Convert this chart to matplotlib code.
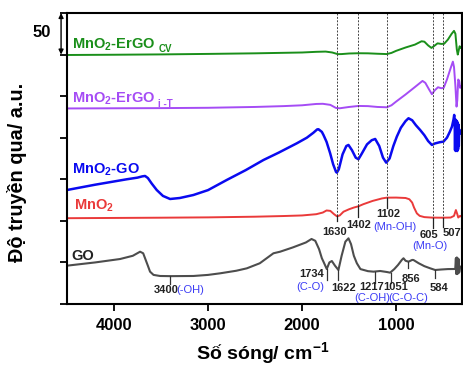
import numpy as np
import matplotlib.pyplot as plt
import matplotlib.transforms as mtransforms

plt.rcParams['font.family'] = ['Liberation Sans', 'DejaVu Sans']
plt.rcParams['mathtext.fontset'] = 'custom'
plt.rcParams['mathtext.rm'] = 'Liberation Sans'
plt.rcParams['mathtext.bf'] = 'Liberation Sans:bold'

# wavenumber (cm-1) / transmittance (a.u., stacked)
cv_x = [4500, 4000, 3500, 3000, 2500, 2000, 1850, 1750, 1680, 1620, 1580, 1500, 1400, 1300, 1200,
        1100, 1050, 1000, 900, 800, 730, 700, 660, 625, 600, 560, 520, 490, 450, 410, 385, 370,
        355, 345, 335, 325, 315, 305]
cv_y = [299.5, 299.8, 300.2, 300.8, 301.5, 302.5, 303.3, 303.6, 302.5, 300.5, 300.6, 301.3, 301.6,
        301.5, 301.0, 300.6, 302, 304.5, 308.5, 312, 316, 315.5, 311, 308, 310, 313.5, 312.8, 313,
        318, 325, 328.5, 325, 306, 300, 305, 310, 308, 309]

it_x = [4500, 4000, 3500, 3000, 2500, 2200, 2000, 1850, 1780, 1700, 1640, 1600, 1500, 1400, 1300,
        1200, 1100, 1050, 1000, 900, 800, 720, 690, 650, 620, 590, 555, 520, 495, 460, 420, 397,
        385, 370, 358, 350, 340, 330, 320, 305]
it_y = [235.2, 235.4, 235.6, 236, 237, 238, 239, 240.6, 240.8, 239.5, 235.8, 235.4, 237, 238.2,
        238, 237, 236.6, 239, 243.5, 252, 261, 268.3, 266, 258, 252.3, 257, 260.7, 259.5, 260,
        270, 284, 291.5, 285, 262, 237.4, 245, 270, 268, 260, 262]

go2_x = [4500, 4200, 3865, 3750, 3700, 3670, 3640, 3600, 3546, 3480, 3404, 3300, 3156, 3000, 2801,
         2600, 2411, 2250, 2056, 1950, 1880, 1840, 1826, 1790, 1773, 1740, 1702, 1670, 1640, 1631,
         1610, 1570, 1530, 1507, 1470, 1430, 1401, 1370, 1310, 1260, 1223, 1180, 1140, 1106, 1070,
         1030, 993, 950, 900, 869, 830, 790, 745, 700, 660, 620, 590, 540, 497, 460, 430, 407, 390,
         383, 378, 374, 370, 366, 362, 358, 354, 350, 346, 342, 338, 334, 330, 320, 305]
go2_y = [137.1, 143.5, 150.0, 152, 153.5, 154.0, 151.5, 145, 137.1, 130, 126.3, 127.5, 131.1, 137,
         149.2, 161, 173.2, 182, 193.3, 200, 206, 210, 210.2, 207, 203.3, 195, 181.3, 168, 159,
         158.0, 162, 180, 190, 191.3, 185, 176, 174.1, 180, 192, 197, 198.5, 190, 176, 170.0, 175,
         190, 201.3, 212, 220, 223.4, 221, 215, 209.3, 203, 196, 191.3, 193, 194.5, 195.3, 200,
         207, 213.3, 222, 227.4, 221, 185, 222, 184, 221, 185, 220, 184, 218, 186, 216, 190, 210,
         205, 208]

mno2_x = [4500, 4000, 3500, 3000, 2500, 2200, 2000, 1850, 1780, 1740, 1700, 1660, 1630, 1600, 1560,
          1500, 1450, 1402, 1350, 1250, 1150, 1100, 1000, 900, 860, 830, 810, 780, 750, 700, 620,
          500, 420, 385, 365, 350, 340, 320, 305]
mno2_y = [103.2, 103.5, 103.8, 104.2, 105, 105.8, 106.5, 108, 110, 112.5, 112, 108, 105.5, 106.5,
          111, 114, 116, 117.5, 120, 124, 127, 127.9, 128, 127.5, 126, 122, 116, 109, 106, 104.5,
          103.9, 103.8, 104, 106, 113, 108, 104, 106, 105]

go_x = [4500, 4200, 3936, 3800, 3723, 3690, 3670, 3640, 3617, 3580, 3511, 3400, 3156, 3000, 2872,
        2700, 2588, 2450, 2305, 2234, 2100, 1960, 1900, 1860, 1820, 1790, 1773, 1738, 1710, 1684,
        1650, 1614, 1580, 1540, 1507, 1480, 1450, 1418, 1380, 1300, 1241, 1170, 1100, 1064, 1020,
        980, 940, 922, 900, 869, 830, 816, 760, 700, 640, 585, 520, 450, 372, 365, 360, 355, 350,
        345, 340, 335, 330, 320, 305]
go_y = [46.1, 50, 54.1, 58, 62.9, 61, 55.0, 46, 38.9, 35, 33.7, 33.5, 33.7, 35, 36.9, 40, 42.9, 49,
        61.0, 62.9, 68, 74, 78.2, 76, 66, 55, 50.9, 42.1, 50, 51.7, 46, 40.9, 58, 75, 79.0, 72, 58,
        49.0, 42, 39.5, 38.9, 39.7, 38.5, 37.7, 42, 47, 53, 55.0, 52, 50.9, 53, 52.9, 49, 45.5, 43,
        40.9, 41.5, 42, 42.1, 55, 36, 56, 36, 55, 37, 54, 38, 45, 45]

# dashed guide lines (MnO2 bands)
mn_peaks = [1630, 1402, 1102, 605, 507]
mn_top = [105.5, 117.5, 128, 103.9, 103.8]
mn_bot = [100, 104.7, 115.5, 91.4, 93]
mn_lab = ['1630', '1402', '1102', '605', '507']
mn_lab_x = [1660, 1399, 1085, 650, 407]
mn_lab_y = [86.6, 95, 108.3, 83, 85.4]

# GO band marks
go_peaks = [3400, 1738, 1614, 1223, 1056, 869, 585]
go_top = [33.5, 42.1, 40.9, 38.9, 37.7, 50.9, 40.9]
go_bot = [24, 29, 29, 25.3, 25.3, 43.3, 31.3]
go_lab = ['3400', '1734', '1622', '1217', '1051', '856', '584']
go_lab_x = [3446, 1896, 1556, 1259, 1002, 840, 550]
go_lab_y = [16.8, 36.1, 18.9, 20.1, 20.1, 30.1, 18.9]

groups = ['(-OH)', '(C-O)', '(C-OH)', '(C-O-C)', '(Mn-OH)', '(Mn-O)']
groups_x = [3190, 1910, 1259, 869, 1010, 645]
groups_y = [16.8, 20.1, 6.9, 6.9, 92.6, 69.8]

fig = plt.figure(figsize=(4.63, 3.67), dpi=100)
ax = fig.add_axes([67/463, 1-304/367, 395/463, 291/367])

ax.plot(cv_x, cv_y, color='#1a8f1a', lw=1.4)
ax.plot(it_x, it_y, color='#a54cf5', lw=1.4)
ax.plot(go2_x, go2_y, color='#0a0af0', lw=1.8)
ax.plot(mno2_x, mno2_y, color='#ea3a3a', lw=1.4)
ax.plot(go_x, go_y, color='#4d4d4d', lw=1.5)

for x, t, b in zip(mn_peaks, mn_top, mn_bot):
    ax.plot([x, x], [350, t], color='#444444', lw=0.7, ls=(0, (2, 1.5)))
    ax.plot([x, x], [t, b], color='#222222', lw=0.9)
for x, t, b in zip(go_peaks, go_top, go_bot):
    ax.plot([x, x], [t, b], color='#333333', lw=0.9)

for s, x, y in zip(mn_lab, mn_lab_x, mn_lab_y):
    ax.text(x, y, s, fontsize=8, fontweight='bold', ha='center', va='center', color='#222222')
for s, x, y in zip(go_lab, go_lab_x, go_lab_y):
    ax.text(x, y, s, fontsize=8, fontweight='bold', ha='center', va='center', color='#222222')
for s, x, y in zip(groups, groups_x, groups_y):
    ax.text(x, y, s, fontsize=8, ha='center', va='center', color='#3b3bf5')

# series names
lab_kw = dict(fontsize=10.5, fontweight='bold', ha='left', va='baseline')
ax.text(4447, 307.6, r'MnO$_{\mathbf{2}}$-ErGO', color='#1a8f1a', **lab_kw)
ax.text(3530, 303.0, 'CV', color='#1a8f1a', fontsize=7, fontweight='bold', va='baseline')
ax.text(4447, 242.2, r'MnO$_{\mathbf{2}}$-ErGO', color='#a54cf5', **lab_kw)
ax.text(3530, 237.5, 'i -T', color='#a54cf5', fontsize=7, fontweight='bold', va='baseline')
ax.text(4447, 157.2, r'MnO$_{\mathbf{2}}$-GO', color='#0a0af0', **lab_kw)
ax.text(4425, 113.9, r'MnO$_{\mathbf{2}}$', color='#ea3a3a', **lab_kw)
ax.text(4450, 52.9, 'GO', color='#222222', **lab_kw)

ax.set_xlim(4500, 300)
ax.set_ylim(0, 350)
ax.set_xticks([4000, 3000, 2000, 1000])
ax.set_yticks(np.arange(0, 351, 50))
ax.set_yticklabels([])
ax.tick_params(direction='out', length=5, width=1.3, labelsize=12)
ax.tick_params(axis='x', pad=5)
for lbl in ax.get_xticklabels():
    lbl.set_fontweight('bold')
for sp in ax.spines.values():
    sp.set_linewidth(1.5)

# scale bar
trans = mtransforms.blended_transform_factory(ax.transAxes, ax.transData)
ax.annotate('', xy=(-0.015, 350), xytext=(-0.015, 300), xycoords=trans, textcoords=trans,
            arrowprops=dict(arrowstyle='<|-|>', color='black', lw=1.0, mutation_scale=7,
                            shrinkA=0, shrinkB=0), annotation_clip=False)
ax.text(-0.063, 327, '50', transform=trans, fontsize=12, fontweight='bold', ha='center', va='center')

fig.text(263/463, 1-354/367, r'Số sóng/ cm$^{\mathbf{-1}}$', fontsize=14, fontweight='bold',
         ha='center', va='center')
fig.text(17/463, 1-172/367, 'Độ truyền qua/ a.u.', fontsize=14.3, fontweight='bold',
         ha='center', va='center', rotation=90)

fig.savefig('out.png', dpi=100)
